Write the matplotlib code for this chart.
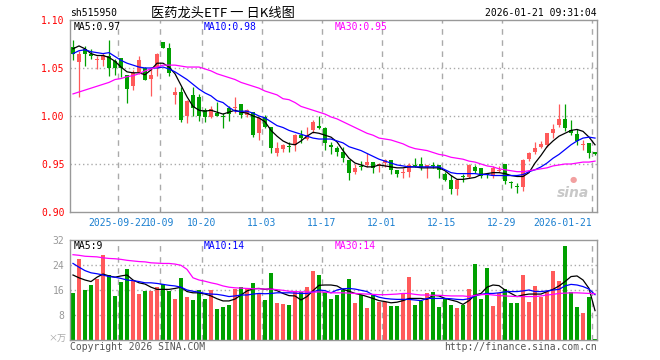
import matplotlib
matplotlib.use('Agg')
import matplotlib.pyplot as plt
import numpy as np

# ---- data (88 trading days) ----
date_labels = ['2025-09-22', '10-09', '10-20', '11-03', '11-17', '12-01', '12-15', '12-29', '2026-01-21']
date_pos = [8, 15, 22, 32, 42, 52, 62, 72, 87]

opens = [1.072,1.056,1.070,1.065,1.058,1.058,1.063,1.057,1.060,1.043,
         1.031,1.046,1.050,1.039,1.050,1.077,1.071,1.022,1.025,1.000,
         1.022,1.020,1.006,0.999,1.003,1.000,1.008,1.008,1.012,1.001,
         1.004,0.982,0.999,0.989,0.961,0.966,0.969,0.970,0.980,0.976,
         0.985,0.989,0.987,0.970,0.967,0.963,0.954,0.942,0.948,0.949,
         0.952,0.948,0.951,0.954,0.944,0.941,0.942,0.949,0.950,0.947,
         0.949,0.949,0.940,0.933,0.924,0.937,0.936,0.947,0.946,0.940,
         0.938,0.943,0.950,0.931,0.927,0.926,0.955,0.963,0.968,0.970,
         0.982,0.991,0.997,0.985,0.981,0.970,0.972,0.962]
closes = [1.065,1.065,1.065,1.062,1.059,1.064,1.050,1.050,1.050,1.028,
          1.045,1.058,1.038,1.043,1.065,1.071,1.045,1.025,0.996,1.016,
          1.008,1.000,0.999,1.007,1.000,0.999,1.002,1.009,1.001,1.006,
          0.980,0.998,0.989,0.967,0.967,0.970,0.968,0.980,0.977,0.980,
          0.994,0.988,0.972,0.968,0.963,0.956,0.941,0.946,0.947,0.952,
          0.946,0.950,0.954,0.944,0.940,0.942,0.949,0.948,0.947,0.949,
          0.948,0.944,0.933,0.924,0.933,0.936,0.949,0.943,0.938,0.939,
          0.946,0.944,0.932,0.930,0.926,0.954,0.961,0.967,0.971,0.982,
          0.986,0.997,0.988,0.982,0.974,0.971,0.961,0.960]
highs = [1.079,1.068,1.073,1.070,1.062,1.066,1.079,1.059,1.060,1.043,
         1.048,1.063,1.051,1.051,1.066,1.077,1.076,1.030,1.030,1.017,
         1.030,1.023,1.008,1.010,1.015,1.003,1.010,1.020,1.012,1.007,
         1.004,0.999,1.001,0.989,0.973,0.971,0.973,0.981,0.985,0.989,
         0.996,1.000,0.989,0.973,0.969,0.968,0.954,0.950,0.953,0.961,
         0.952,0.951,0.955,0.954,0.944,0.946,0.951,0.956,0.957,0.949,
         0.952,0.949,0.942,0.939,0.934,0.940,0.950,0.949,0.946,0.941,
         0.948,0.948,0.950,0.932,0.930,0.955,0.963,0.973,0.974,0.982,
         0.992,1.013,1.013,0.996,0.986,0.975,0.972,0.963]
lows = [1.058,1.020,1.052,1.059,1.049,1.052,1.042,1.043,1.041,1.014,
        1.027,1.044,1.038,1.021,1.042,1.071,1.042,1.013,0.994,0.993,
        1.000,0.995,0.994,0.998,1.000,0.988,0.995,1.003,0.998,0.999,
        0.978,0.975,0.987,0.961,0.958,0.962,0.963,0.964,0.972,0.975,
        0.982,0.986,0.965,0.960,0.958,0.952,0.933,0.940,0.944,0.947,
        0.941,0.942,0.947,0.940,0.936,0.935,0.936,0.947,0.944,0.935,
        0.946,0.935,0.932,0.919,0.918,0.931,0.935,0.941,0.935,0.935,
        0.935,0.942,0.929,0.925,0.920,0.922,0.953,0.960,0.967,0.968,
        0.977,0.989,0.984,0.980,0.970,0.965,0.956,0.959]

ma5 = [1.070,1.073,1.070,1.065,1.063,1.063,1.061,1.057,1.051,1.046,
       1.045,1.045,1.043,1.048,1.055,1.055,1.051,1.044,1.032,1.020,
       1.010,1.006,1.005,1.006,1.004,1.002,1.004,1.006,1.004,1.003,
       1.000,0.998,0.994,0.985,0.979,0.974,0.971,0.970,0.974,0.979,
       0.983,0.982,0.980,0.978,0.973,0.964,0.956,0.951,0.949,0.947,
       0.947,0.949,0.948,0.947,0.946,0.946,0.947,0.947,0.946,0.946,
       0.946,0.946,0.943,0.938,0.934,0.934,0.935,0.936,0.939,0.940,
       0.941,0.941,0.940,0.938,0.937,0.937,0.941,0.951,0.959,0.968,
       0.974,0.979,0.982,0.985,0.986,0.984,0.978,0.970]
ma10 = [1.065,1.068,1.069,1.067,1.066,1.065,1.066,1.062,1.058,1.055,
        1.053,1.051,1.050,1.050,1.050,1.051,1.049,1.046,1.042,1.038,
        1.033,1.028,1.024,1.021,1.016,1.014,1.009,1.005,1.005,1.005,
        1.003,1.000,0.998,0.994,0.990,0.988,0.985,0.983,0.981,0.979,
        0.977,0.976,0.976,0.976,0.974,0.972,0.968,0.966,0.964,0.961,
        0.958,0.955,0.953,0.951,0.949,0.948,0.947,0.947,0.947,0.947,
        0.947,0.947,0.944,0.941,0.940,0.940,0.940,0.940,0.939,0.939,
        0.938,0.938,0.938,0.938,0.938,0.939,0.942,0.944,0.947,0.951,
        0.956,0.960,0.965,0.970,0.974,0.977,0.978,0.977]
ma30 = [1.023,1.025,1.027,1.029,1.031,1.033,1.035,1.038,1.039,1.041,
        1.042,1.044,1.047,1.049,1.051,1.053,1.053,1.053,1.052,1.051,
        1.051,1.051,1.049,1.047,1.044,1.042,1.040,1.038,1.035,1.033,
        1.031,1.029,1.026,1.024,1.022,1.018,1.017,1.014,1.010,1.008,
        1.006,1.004,1.002,0.999,0.997,0.994,0.991,0.988,0.985,0.982,
        0.980,0.977,0.976,0.975,0.973,0.971,0.968,0.966,0.965,0.964,
        0.962,0.960,0.959,0.957,0.956,0.955,0.953,0.952,0.950,0.948,
        0.947,0.945,0.944,0.943,0.942,0.942,0.943,0.944,0.945,0.946,
        0.948,0.949,0.950,0.950,0.951,0.952,0.952,0.953]

volumes = [15.1,25.9,16.0,17.6,19.4,27.2,20.8,14.1,18.7,22.7,
           19.2,14.7,15.7,15.7,17.1,17.9,15.8,13.1,19.7,13.9,
           12.8,16.0,13.1,16.0,10.0,10.7,11.2,16.3,17.1,16.5,
           18.3,14.9,12.9,21.5,11.9,11.6,11.2,15.4,15.5,17.1,
           22.2,20.9,15.4,13.2,14.4,16.0,19.5,11.9,14.4,10.2,
           14.4,12.3,12.3,10.9,10.9,14.9,20.2,11.2,12.6,15.1,
           15.4,10.6,13.0,11.2,10.2,11.2,16.3,24.3,13.1,23.0,
           10.9,15.1,16.2,11.9,11.9,20.8,12.3,17.3,13.9,15.5,
           22.2,18.9,30.1,15.5,10.6,8.6,13.8,0.3]
vol_ma5 = [20.8,19.9,19.2,18.7,20.1,21.1,20.5,20.1,20.5,20.8,
           19.2,18.3,17.9,16.9,16.2,16.2,16.2,16.5,16.9,15.5,
           15.1,15.1,14.7,14.1,13.2,12.5,12.5,13.1,14.4,15.7,
           16.4,16.5,16.2,16.4,15.8,14.9,14.2,14.1,12.8,13.9,
           15.8,17.5,17.6,17.6,17.3,16.2,15.6,14.9,14.5,13.9,
           13.3,12.6,12.3,11.9,12.1,12.6,13.3,13.3,13.3,13.0,
           14.3,14.1,13.3,12.8,12.3,11.4,12.6,14.4,14.9,16.9,
           17.6,17.4,16.0,14.9,13.9,14.4,14.7,14.7,14.7,15.5,
           16.2,17.3,18.7,20.3,20.5,19.2,16.5,9.4]
vol_ma10 = [24.5,23.3,22.2,21.5,21.2,20.8,20.3,20.1,19.7,19.2,
            19.0,18.7,18.3,18.3,18.1,17.8,17.5,17.3,16.9,16.0,
            15.6,15.3,14.9,14.7,14.6,14.3,13.9,14.1,14.4,14.4,
            14.7,14.9,14.8,14.9,15.1,15.1,15.1,15.0,14.9,14.9,
            15.4,16.0,15.8,15.1,16.0,16.4,16.5,16.3,15.9,15.5,
            14.4,13.7,13.3,13.1,13.0,13.0,13.0,12.8,12.6,13.3,
            13.3,13.3,13.3,13.2,13.0,12.9,13.2,14.1,14.6,14.9,
            14.9,15.1,15.4,15.5,15.5,15.7,16.0,15.5,15.5,15.7,
            16.0,16.2,17.3,17.8,17.6,17.1,16.3,14.5]
vol_ma30 = [27.3,27.1,26.8,26.7,26.6,26.3,26.1,26.0,25.8,25.5,
            25.3,25.1,25.0,24.7,24.6,24.5,24.5,24.3,23.9,22.6,
            19.9,19.2,18.8,18.3,17.9,17.3,16.9,16.7,16.6,16.5,
            16.4,16.4,16.3,16.3,16.1,15.9,15.6,15.5,15.4,15.4,
            15.3,15.4,15.3,15.1,15.1,15.1,15.0,14.9,14.8,14.7,
            14.6,14.5,14.5,14.6,14.7,14.9,14.9,14.6,14.4,14.4,
            14.3,14.3,14.2,14.1,14.1,14.1,13.9,14.3,14.5,14.6,
            14.4,14.2,14.1,14.0,13.9,13.9,13.9,13.9,14.1,14.4,
            14.6,14.9,15.0,15.1,15.1,15.0,14.9,14.8]

price_ticks = [0.90, 0.95, 1.00, 1.05, 1.10]
vol_ticks = [8, 16, 24, 32]

RED = '#ff5a5a'
GREEN = '#00a000'
GRID = '#aaaaaa'
MONO = 'DejaVu Sans Mono'

W, H = 660, 360
fig = plt.figure(figsize=(W / 100, H / 100), dpi=100)
fig.patch.set_facecolor('white')

def px_axes(left, top, right, bottom):
    return fig.add_axes([left / W, 1 - bottom / H, (right - left) / W, (bottom - top) / H])

ax = px_axes(70, 20, 597, 212)
axv = px_axes(70, 240, 597, 340)

o = np.array(opens); c = np.array(closes)
h = np.array(highs); l = np.array(lows)
x = np.arange(len(o))
up = c >= o
colors = np.where(up, RED, GREEN)

for a in (ax, axv):
    a.set_xlim(-0.5, 87.33)
    for s in a.spines.values():
        s.set_color('#999999')
        s.set_linewidth(1.0)
    for p in date_pos:
        a.axvline(p - 0.5, color=GRID, lw=1.0, ls=(0, (4, 4)), zorder=0)

# price panel
for t in price_ticks[1:-1]:
    ax.axhline(t, color=GRID, lw=1.0, ls=(0, (1, 2)), zorder=0)
ax.vlines(x, l, h, colors=colors, lw=0.9, zorder=2)
body_lo = np.minimum(o, c)
body_h = np.maximum(np.abs(c - o), 0.0011)
ax.bar(x, body_h, bottom=body_lo, width=0.78, color=colors, lw=0, zorder=3)
ax.plot(x, ma5, color='black', lw=0.9, zorder=4)
ax.plot(x, ma10, color='#0000ff', lw=0.9, zorder=4)
ax.plot(x, ma30, color='#ff00ff', lw=0.9, zorder=4)
ax.set_ylim(0.90, 1.10)
ax.set_yticks(price_ticks)
ax.set_yticklabels(['%.2f' % t for t in price_ticks], color='red', family=MONO, fontsize=7)
ax.tick_params(axis='y', length=0, pad=4)
ax.set_xticks([p - 0.5 for p in date_pos])
ax.set_xticklabels(date_labels, color='#1a7fd0', family=MONO, fontsize=7)
ax.tick_params(axis='x', direction='in', length=3, color='#999999', pad=4)
ax.get_xticklabels()[-1].set_horizontalalignment('right')

# sina watermark
ax.text(0.985, 0.06, 'sina', transform=ax.transAxes, ha='right', va='bottom',
        fontsize=10, style='italic', weight='bold', color='#c8c8c8', family='DejaVu Sans')
ax.text(0.955, 0.17, '\u25CF', transform=ax.transAxes, ha='center', va='center',
        fontsize=6, color='#f2a0a0', family='DejaVu Sans')

# volume panel
for t in vol_ticks[:-1]:
    axv.axhline(t, color=GRID, lw=1.0, ls=(0, (1, 2)), zorder=0)
axv.bar(x, volumes, width=0.8, color=colors, lw=0, zorder=2)
axv.plot(x, vol_ma5, color='black', lw=0.9, zorder=3)
axv.plot(x, vol_ma10, color='#0000ff', lw=0.9, zorder=3)
axv.plot(x, vol_ma30, color='#ff00ff', lw=0.9, zorder=3)
axv.set_ylim(0, 32)
axv.set_yticks(vol_ticks)
axv.set_yticklabels([str(t) for t in vol_ticks], color='#999999', family=MONO, fontsize=7)
axv.tick_params(axis='y', length=0, pad=4)
axv.set_xticks([])

# header and labels
def ftext(px, py, s, **kw):
    kw.setdefault('family', MONO)
    kw.setdefault('fontsize', 7)
    kw.setdefault('va', 'center')
    fig.text(px / W, 1 - py / H, s, **kw)

ftext(70, 13, 'sh515950', color='black')
ftext(223, 13, '医药龙头ETF 一 日K线图', ha='center', fontsize=9.5,
      family=['Noto Sans CJK SC', 'DejaVu Sans'], color='black')
ftext(597, 13, '2026-01-21 09:31:04', ha='right', color='black')

ftext(74, 27, 'MA5:%.2f' % ma5[-1], color='black')
ftext(204, 27, 'MA10:%.2f' % ma10[-1], color='#0000ff')
ftext(335, 27, 'MA30:%.2f' % ma30[-1], color='#ff00ff')

ftext(74, 246, 'MA5:%d' % int(vol_ma5[-1]), color='black')
ftext(204, 246, 'MA10:%d' % int(vol_ma10[-1]), color='#0000ff')
ftext(335, 246, 'MA30:%d' % int(vol_ma30[-1]), color='#ff00ff')

ftext(66, 339, '×万', ha='right', color='#aaaaaa', fontsize=6.5,
      family=['Noto Sans CJK SC', 'DejaVu Sans'])
ftext(70, 347, 'Copyright 2026 SINA.COM', color='#555555')
ftext(597, 347, 'http://finance.sina.com.cn', ha='right', color='#555555')

fig.savefig('out.png', dpi=100, facecolor='white')
